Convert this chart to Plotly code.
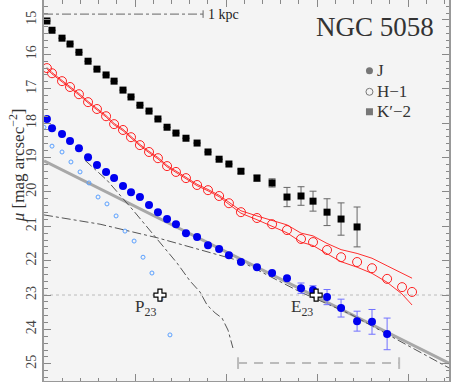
import plotly.graph_objects as go

# ---------------- data (radius in tick units, surface brightness in mag/arcsec^2)
r = [0.16, 0.44, 0.99, 1.43, 1.92, 2.42, 2.91, 3.41, 3.85, 4.34, 4.78, 5.27, 5.77,
     6.26, 6.76, 7.25, 7.80, 8.41, 9.01, 9.62, 10.16, 10.82, 11.70, 12.53, 13.35,
     14.12, 14.78, 15.55, 16.32, 17.20, 18.02, 18.85, 19.67, 20.22]

mu_K = [15.03, 15.30, 15.53, 15.70, 15.94, 16.20, 16.43, 16.60, 16.78, 17.04, 17.24,
        17.48, 17.65, 17.88, 18.12, 18.29, 18.44, 18.58, 18.84, 19.05, 19.19, 19.40,
        19.60, 19.74, 20.15, 20.12, 20.27, 20.59, 20.79, 21.02]
err_K = [0, 0, 0, 0, 0, 0, 0, 0, 0, 0, 0, 0, 0, 0, 0, 0, 0, 0, 0, 0, 0, 0.06,
         0.09, 0.12, 0.28, 0.27, 0.29, 0.39, 0.47, 0.58]

mu_H = [16.40, 16.55, 16.78, 16.95, 17.16, 17.39, 17.59, 17.80, 18.03, 18.20, 18.41,
        18.64, 18.84, 19.02, 19.25, 19.42, 19.60, 19.80, 19.95, 20.12, 20.33, 20.59,
        20.76, 20.94, 21.11, 21.37, 21.46, 21.69, 21.90, 22.04, 22.22, 22.53, 22.77, 22.91]
H_up_off = [0.02] * 20 + [0.03, 0.04, 0.06, 0.10, 0.15, 0.17, 0.18, 0.19, 0.22, 0.25,
                          0.29, 0.38, 0.40, 0.40]
H_lo_off = [0.02] * 20 + [0.03, 0.03, 0.05, 0.06, 0.08, 0.09, 0.10, 0.11, 0.13, 0.15,
                          0.15, 0.10, 0.20, 0.38]

mu_J = [17.88, 18.15, 18.32, 18.52, 18.73, 18.99, 19.22, 19.42, 19.60, 19.83, 20.01,
        20.15, 20.38, 20.59, 20.79, 20.94, 21.20, 21.31, 21.55, 21.66, 21.84, 22.04,
        22.19, 22.36, 22.51, 22.80, 22.85, 23.06, 23.38, 23.76, 23.78, 24.13]
err_J = [0] * 25 + [0.15, 0.12, 0.22, 0.26, 0.29, 0.36, 0.46]

r_resid = [0.0, 0.44, 0.99, 1.48, 1.98, 2.47, 2.97, 3.46, 3.96, 4.45, 4.95, 5.44, 5.93,
           6.43, 6.92]
mu_resid = [18.12, 18.67, 18.84, 19.13, 19.42, 19.74, 20.15, 20.35, 20.70, 21.14,
            21.43, 21.90, 22.36, 23.12, 24.16]

r_disk = [0.0, 22.25]
mu_disk = [19.10, 24.98]

r_bulge = [2.25, 3.46, 4.89, 6.21, 7.31, 8.02, 8.57, 8.96, 9.40, 9.78, 10.11, 10.38]
mu_bulge = [19.08, 19.66, 20.53, 21.37, 22.07, 22.59, 22.91, 23.29, 23.52, 23.67,
            24.02, 24.54]

r_disk2 = [0.0, 3.08, 6.26, 8.57, 10.77, 14.07, 16.81, 22.25]
mu_disk2 = [20.67, 20.94, 21.34, 21.69, 22.01, 22.91, 23.55, 25.12]

mu_iso = 23.0
r_P23, r_E23 = 6.37, 14.95
kpc_bar = [0.0, 8.74]
kpc_mu = 14.83
fit_range = [10.66, 19.51]
fit_mu = 24.98

x_range = [0, 22.25]
y_range = [25.50, 14.42]

# ---------------- figure
SERIF = "Liberation Serif, Times New Roman, serif"
fig = go.Figure()

def line(x, y, color, width=1, dash="solid"):
    fig.add_trace(go.Scatter(x=x, y=y, mode="lines", hoverinfo="skip",
                             line=dict(color=color, width=width, dash=dash)))

# isophote dotted line
line(x_range, [mu_iso, mu_iso], "#bbbbbb", 1, "dot")
# model components
line(r_disk, mu_disk, "#a8a8a8", 3)
line(r_disk2, mu_disk2, "#555555", 1, "dashdot")
line(r_bulge, mu_bulge, "#555555", 1, "dashdot")
# H envelopes
nH = len(mu_H)
line(r[:nH], [m - o for m, o in zip(mu_H, H_up_off)], "#ff3030", 1)
line(r[:nH], [m + o for m, o in zip(mu_H, H_lo_off)], "#ff3030", 1)

# residual (bulge) points
fig.add_trace(go.Scatter(x=r_resid, y=mu_resid, mode="markers", hoverinfo="skip",
                         marker=dict(symbol="circle-open", size=4, color="#5aa0ff",
                                     line=dict(width=1))))
# K'-2
nK = len(mu_K)
fig.add_trace(go.Scatter(x=r[:nK], y=mu_K, mode="markers", hoverinfo="skip",
                         error_y=dict(type="data", array=err_K, color="#666666",
                                      thickness=1, width=3.5),
                         marker=dict(symbol="square", size=7, color="black")))
# H-1
fig.add_trace(go.Scatter(x=r[:nH], y=mu_H, mode="markers", hoverinfo="skip",
                         marker=dict(symbol="circle-open", size=9, color="#ff2020",
                                     line=dict(width=1))))
# J
nJ = len(mu_J)
fig.add_trace(go.Scatter(x=r[:nJ], y=mu_J, mode="markers", hoverinfo="skip",
                         error_y=dict(type="data", array=err_J, color="#7070ff",
                                      thickness=1, width=3.5),
                         marker=dict(symbol="circle", size=8, color="#0000f0")))

# P23 / E23 crosses
fig.add_trace(go.Scatter(x=[r_P23, r_E23], y=[mu_iso, mu_iso], mode="markers",
                         hoverinfo="skip",
                         marker=dict(symbol="cross", size=10, color="white",
                                     line=dict(color="black", width=1.2))))

# 1 kpc scale bar
line(kpc_bar, [kpc_mu, kpc_mu], "#666666", 1, "dashdot")
line([kpc_bar[1], kpc_bar[1]], [kpc_mu - 0.11, kpc_mu + 0.11], "#666666", 1)

# fitting range bar
line(fit_range, [fit_mu, fit_mu], "#bbbbbb", 2, "9px,7px")
for xe in fit_range:
    line([xe, xe], [fit_mu - 0.17, fit_mu + 0.17], "#bbbbbb", 2)

# legend symbols
leg_x = 17.88
leg_mu = [16.48, 17.09, 17.67]
fig.add_trace(go.Scatter(x=[leg_x], y=[leg_mu[0]], mode="markers", hoverinfo="skip",
                         marker=dict(symbol="circle", size=7, color="#777777")))
fig.add_trace(go.Scatter(x=[leg_x], y=[leg_mu[1]], mode="markers", hoverinfo="skip",
                         marker=dict(symbol="circle-open", size=7, color="#777777",
                                     line=dict(width=1))))
fig.add_trace(go.Scatter(x=[leg_x], y=[leg_mu[2]], mode="markers", hoverinfo="skip",
                         marker=dict(symbol="square", size=7, color="#777777")))

ann = []
for txt, m in zip(["J", "H−1", "K′−2"], leg_mu):
    ann.append(dict(x=leg_x + 0.3, y=m, text=txt, showarrow=False, xanchor="left",
                    yanchor="middle", font=dict(family=SERIF, size=17, color="#333333")))
ann += [
    dict(x=0.817, y=0.93, xref="paper", yref="paper", text="NGC 5058", showarrow=False,
         xanchor="center", yanchor="middle",
         font=dict(family=SERIF, size=27, color="#333333")),
    dict(x=kpc_bar[1] + 0.15, y=kpc_mu, text="1 kpc", showarrow=False, xanchor="left",
         yanchor="middle", font=dict(family=SERIF, size=14, color="#222222")),
    dict(x=r_P23 - 0.8, y=mu_iso + 0.38, text="P<sub>23</sub>", showarrow=False,
         xanchor="center", yanchor="middle",
         font=dict(family=SERIF, size=17, color="#333333")),
    dict(x=r_E23 - 0.8, y=mu_iso + 0.38, text="E<sub>23</sub>", showarrow=False,
         xanchor="center", yanchor="middle",
         font=dict(family=SERIF, size=17, color="#333333")),
    dict(x=-0.066, y=0.567, xref="paper", yref="paper",
         text="<i>μ</i> [mag arcsec<sup>−2</sup>]", showarrow=False, textangle=-90,
         xanchor="center", yanchor="middle",
         font=dict(family=SERIF, size=17, color="#333333")),
]

axis_common = dict(showgrid=False, zeroline=False, showline=True, linecolor="#999999",
                   linewidth=2, mirror="allticks", ticks="inside", tickcolor="#888888",
                   tickwidth=1, automargin=False)
fig.update_layout(
    width=451, height=382, showlegend=False,
    margin=dict(l=44, r=2, t=0, b=1),
    paper_bgcolor="white", plot_bgcolor="#f4f4f4",
    xaxis=dict(range=x_range, tick0=0, dtick=5, ticklen=7, showticklabels=False,
               minor=dict(dtick=1, ticklen=3.5, tickcolor="#888888", ticks="inside"),
               **axis_common),
    yaxis=dict(range=y_range, tick0=15, dtick=1, ticklen=7, tickangle=-90,
               tickfont=dict(family=SERIF, size=14, color="#444444"),
               minor=dict(dtick=0.2, ticklen=3.5, tickcolor="#888888", ticks="inside"),
               **axis_common),
    annotations=ann,
)

fig.write_html("out.html", config={"displayModeBar": False},
               post_script="document.body.style.margin='0';")
